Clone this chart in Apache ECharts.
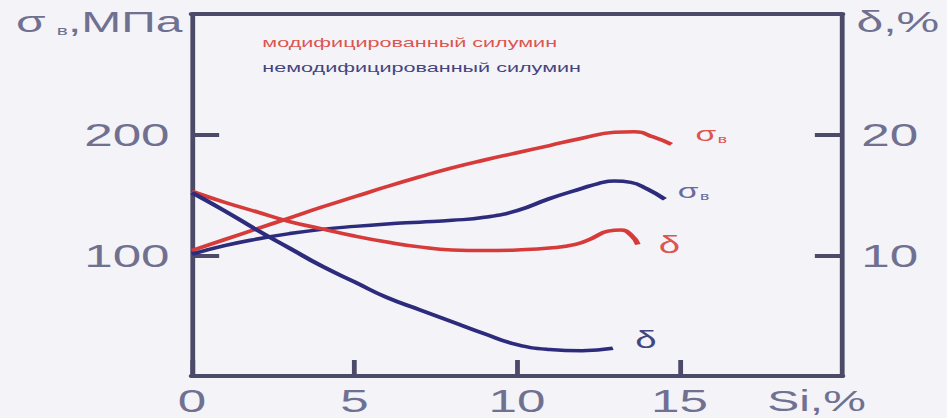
<!DOCTYPE html>
<html>
<head>
<meta charset="utf-8">
<script src="https://cdn.jsdelivr.net/npm/echarts@6/dist/echarts.min.js"></script>
<style>
  html, body { margin: 0; padding: 0; background: #f3f3f8; width: 947px; height: 418px; overflow: hidden; }
  #chart { width: 592px; height: 418px; transform-origin: 0 0; }
</style>
</head>
<body>
<div id="chart"></div>
<script>
// Silicon content, % (x) and properties of cast Al–Si alloy (silumin)
const legendNames = ['модифицированный силумин', 'немодифицированный силумин'];

// Tensile strength σв, MPa (left axis)
const siModStrength = [0, 1, 2, 3, 4, 5, 6, 7, 8, 9, 10, 11, 12, 13, 13.6, 14.2, 14.75];
const modStrength   = [104, 113, 122, 131, 140, 148.5, 157, 165, 172.5, 179, 185, 191, 197, 202, 202.5, 198, 192];

const siUnmodStrength = [0, 1, 2, 3, 4, 5, 6, 7, 8, 9, 10, 11, 12, 12.5, 13, 13.5, 14, 14.55];
const unmodStrength   = [101, 108, 113.5, 118, 121.5, 124, 126, 127.5, 129, 131.5, 137, 147, 155.5, 159.5, 161.5, 160.5, 155, 146.5];

// Elongation δ, % (right axis)
const siModElong = [0, 1, 2, 3, 4, 5, 6, 7, 8, 9, 10, 11, 11.8, 12.3, 12.8, 13.2, 13.5, 13.72];
const modElong   = [15.3, 14.4, 13.6, 12.8, 12.2, 11.6, 11.1, 10.7, 10.45, 10.4, 10.45, 10.6, 10.9, 11.4, 12.0, 12.1, 11.7, 10.9];

const siUnmodElong = [0, 1, 2, 3, 4, 5, 6, 7, 8, 9, 10, 11, 12, 12.95];
const unmodElong   = [15.2, 13.7, 12.1, 10.6, 9.1, 7.8, 6.5, 5.5, 4.5, 3.5, 2.6, 2.2, 2.1, 2.3];

// Axis ranges and tick steps
const siRange = [0, 20], siStep = 5;
const strengthRange = [0, 300], strengthStep = 100;
const elongRange = [0, 30], elongStep = 10;

const pairs = (xs, ys) => xs.map((x, i) => [x, ys[i]]);

// The figure is drawn narrow and widened horizontally
const STRETCH = 947 / 592;
document.getElementById('chart').style.transform = 'scaleX(' + STRETCH + ')';

const FONT = '"Liberation Sans", Arial, sans-serif';
const AXIS = '#4b4b69';
const TEXT = '#707090';
const RED = '#d63b3a';
const NAVY = '#2d2b7c';
const RED_TEXT = '#dd5550';
const NAVY_TEXT = '#45457f';

const sigmaRich = (color) => ({
  s: { fontSize: 21, color: color, fontFamily: FONT },
  b: { fontSize: 11, color: color, fontFamily: FONT, verticalAlign: 'bottom', lineHeight: 12, padding: [0, 0, 0, 1] }
});

const chart = echarts.init(document.getElementById('chart'), null, { renderer: 'svg' });

chart.setOption({
  backgroundColor: '#f3f3f8',
  animation: false,
  textStyle: { fontFamily: FONT },
  grid: { left: 120, right: 65.6, top: 14, bottom: 42, outerBoundsMode: 'none' },
  legend: {
    orient: 'vertical',
    left: 154,
    top: 30,
    icon: 'none',
    itemWidth: 0,
    itemHeight: 15,
    itemGap: 11,
    selectedMode: false,
    textStyle: { fontSize: 13.5, fontFamily: FONT },
    data: [
      { name: legendNames[0], textStyle: { color: RED_TEXT } },
      { name: legendNames[1], textStyle: { color: NAVY_TEXT } }
    ]
  },
  xAxis: [
    {
      type: 'value',
      position: 'bottom',
      min: siRange[0], max: siRange[1], interval: siStep,
      axisLine: { onZero: false, lineStyle: { color: AXIS, width: 4 } },
      axisTick: { inside: true, length: 16, lineStyle: { color: AXIS, width: 3 } },
      axisLabel: { color: TEXT, fontSize: 32, margin: 9, showMaxLabel: false, fontFamily: FONT },
      splitLine: { show: false },
      name: 'Si,%',
      nameLocation: 'end',
      nameGap: -16,
      nameTextStyle: { color: TEXT, fontSize: 30, fontFamily: FONT, align: 'center', verticalAlign: 'top', padding: [10, 0, 0, 0] }
    },
    {
      type: 'value',
      position: 'top',
      min: siRange[0], max: siRange[1],
      axisLine: { show: true, onZero: false, lineStyle: { color: AXIS, width: 4 } },
      axisTick: { show: false },
      axisLabel: { show: false },
      splitLine: { show: false }
    }
  ],
  yAxis: [
    {
      type: 'value',
      position: 'left',
      min: strengthRange[0], max: strengthRange[1], interval: strengthStep,
      axisLine: { show: true, onZero: false, lineStyle: { color: AXIS, width: 3 } },
      axisTick: { show: true, inside: true, length: 17, lineStyle: { color: AXIS, width: 4 } },
      axisLabel: { color: TEXT, fontSize: 32, margin: 14, showMinLabel: false, showMaxLabel: false, fontFamily: FONT },
      splitLine: { show: false },
      name: '{s|σ}{b|в}{t|,МПа}',
      nameLocation: 'end',
      nameGap: -8,
      nameTextStyle: {
        align: 'right', verticalAlign: 'middle', padding: [0, 6, 0, 0],
        rich: {
          s: { fontSize: 30, color: TEXT, fontFamily: FONT },
          b: { fontSize: 13, color: TEXT, fontFamily: FONT, verticalAlign: 'bottom', lineHeight: 14, padding: [0, 0, 0, 7] },
          t: { fontSize: 30, color: TEXT, fontFamily: FONT }
        }
      }
    },
    {
      type: 'value',
      position: 'right',
      min: elongRange[0], max: elongRange[1], interval: elongStep,
      axisLine: { show: true, onZero: false, lineStyle: { color: AXIS, width: 3 } },
      axisTick: { show: true, inside: true, length: 17, lineStyle: { color: AXIS, width: 4 } },
      axisLabel: { color: TEXT, fontSize: 32, margin: 12, showMinLabel: false, showMaxLabel: false, fontFamily: FONT },
      splitLine: { show: false },
      name: 'δ,%',
      nameLocation: 'end',
      nameGap: -8,
      nameTextStyle: { color: TEXT, fontSize: 30, fontFamily: FONT, align: 'left', verticalAlign: 'middle', padding: [0, 0, 0, 9] }
    }
  ],
  series: [
    {
      name: legendNames[0], type: 'line', xAxisIndex: 0, yAxisIndex: 0,
      smooth: true, showSymbol: false,
      lineStyle: { color: RED, width: 3.5 }, itemStyle: { color: RED },
      data: pairs(siModStrength, modStrength),
      endLabel: { show: true, formatter: '{s|σ}{b|в}', offset: [7, -10], rich: sigmaRich(RED_TEXT) }
    },
    {
      name: legendNames[1], type: 'line', xAxisIndex: 0, yAxisIndex: 0,
      smooth: true, showSymbol: false,
      lineStyle: { color: NAVY, width: 3.5 }, itemStyle: { color: NAVY },
      data: pairs(siUnmodStrength, unmodStrength),
      endLabel: { show: true, formatter: '{s|σ}{b|в}', offset: [0, -8], rich: sigmaRich('#6a6a98') }
    },
    {
      name: legendNames[0], type: 'line', xAxisIndex: 0, yAxisIndex: 1,
      smooth: true, showSymbol: false,
      lineStyle: { color: RED, width: 3.5 }, itemStyle: { color: RED },
      data: pairs(siModElong, modElong),
      endLabel: { show: true, formatter: 'δ', offset: [5, 0], color: RED_TEXT, fontSize: 24, fontFamily: FONT }
    },
    {
      name: legendNames[1], type: 'line', xAxisIndex: 0, yAxisIndex: 1,
      smooth: true, showSymbol: false,
      lineStyle: { color: NAVY, width: 3.5 }, itemStyle: { color: NAVY },
      data: pairs(siUnmodElong, unmodElong),
      endLabel: { show: true, formatter: 'δ', offset: [6, -8], color: NAVY_TEXT, fontSize: 24, fontFamily: FONT }
    }
  ]
});
</script>
</body>
</html>
